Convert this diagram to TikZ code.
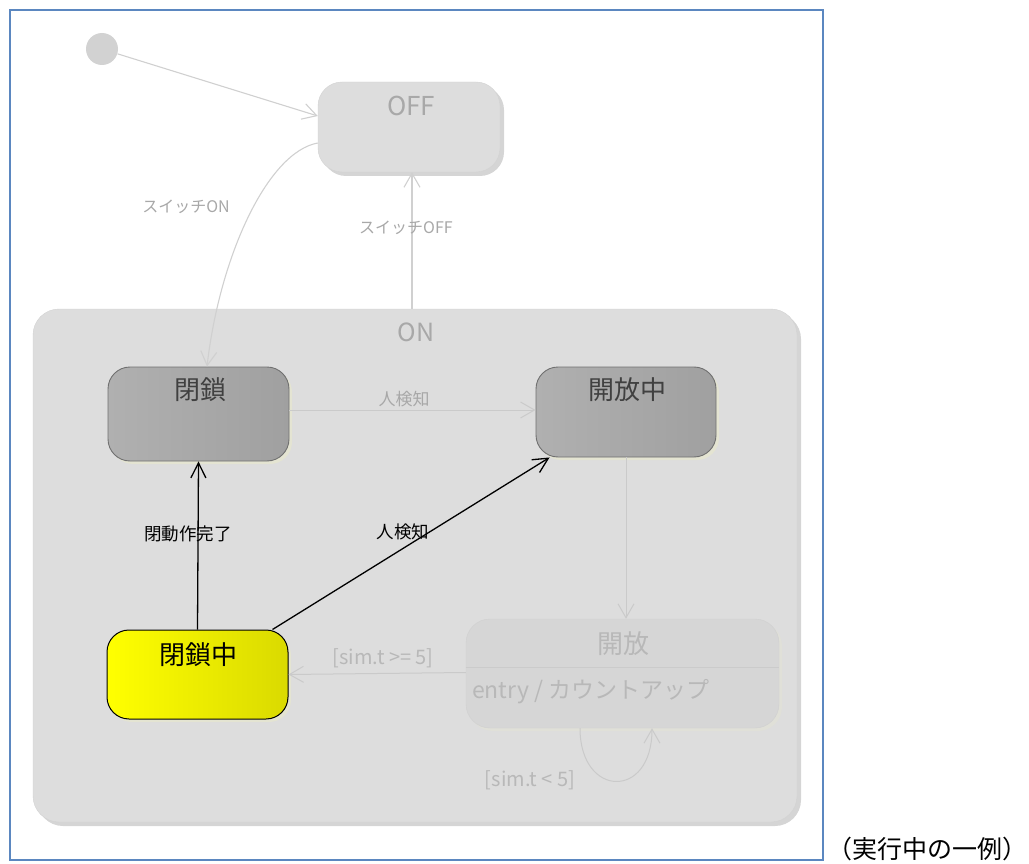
\documentclass[tikz,border=0pt]{standalone}
\usepackage{fontspec}
\setmainfont{Noto Sans CJK JP}
\usetikzlibrary{arrows.meta}
\definecolor{frameblue}{HTML}{5B87C0}
\definecolor{ongray}{HTML}{DDDDDD}
\definecolor{onborder}{HTML}{D2D2D2}
\definecolor{onshadow}{HTML}{D5D5D5}
\definecolor{ghosttext}{HTML}{A8A8A8}
\definecolor{faintline}{HTML}{D0D0D0}
\definecolor{darkfillL}{HTML}{B0B0B0}
\definecolor{darkfillR}{HTML}{A0A0A0}
\definecolor{darkborder}{HTML}{707070}
\definecolor{yshadow}{HTML}{E4E4D2}
\definecolor{statetext}{HTML}{404040}
\definecolor{yelL}{HTML}{FFFF00}
\definecolor{yelR}{HTML}{DADA00}
\definecolor{simtext}{HTML}{B8B8B8}
\tikzset{
  fs/.style={font=\fontsize{#1}{#1}\selectfont},
  ghoststate/.style={draw=onborder, fill=ongray, rounded corners=24pt, inner sep=0pt},
  darkstate/.style={draw=darkborder, line width=0.9pt, left color=darkfillL, right color=darkfillR, rounded corners=22pt, inner sep=0pt},
  activestate/.style={draw=black, line width=1pt, left color=yelL, right color=yelR, rounded corners=22pt, inner sep=0pt},
  garrow/.style={draw=faintline, line width=1.1pt, -{Straight Barb[length=14pt,width=16pt,line width=1.1pt]}},
  farrow/.style={draw=ongray!80!gray, line width=1pt, -{Straight Barb[length=14pt,width=16pt,line width=1pt]}},
  barrow/.style={draw=black, line width=1.3pt, -{Straight Barb[length=15pt,width=15pt,line width=1.3pt]}},
  glabel/.style={fs=16, text=ghosttext, inner sep=0pt},
  blabel/.style={fs=17.5, text=black, inner sep=0pt},
}
\begin{document}
\begin{tikzpicture}[x=1pt,y=-1pt]
\useasboundingbox (0,0) rectangle (1029,864);
% frame
\node[draw=frameblue, line width=1.3pt, minimum width=813pt, minimum height=850pt, inner sep=0pt] (frame) at (416.5,435) {};
\node[fs=25, text=black, inner sep=0pt] (caption) at (927,849) {（実行中の一例）};
% ON composite
\fill[onshadow] (37,313) [rounded corners=26pt] rectangle (801,826);
\node[ghoststate, rounded corners=26pt, minimum width=764pt, minimum height=513pt] (on) at (415,565.5) {};
\node[fs=25, text=ghosttext, inner sep=0pt] (onT) at (416,332) {ON};
% initial
\node[circle, fill=onborder, minimum size=32pt, inner sep=0pt] (init) at (102,49) {};
% OFF
\fill[onshadow] (322,86) [rounded corners=24pt] rectangle (504,176);
\node[ghoststate, minimum width=182pt, minimum height=90pt] (off) at (409,127) {};
\node[fs=26, text=ghosttext, inner sep=0pt] (offT) at (411,106) {OFF};
% 閉鎖
\fill[yshadow] (111,370) [rounded corners=22pt] rectangle (292,464);
\node[darkstate, minimum width=181pt, minimum height=94pt] (heisa) at (198.5,414) {};
\node[fs=26, text=statetext, inner sep=0pt] (heisaT) at (200,390) {閉鎖};
% 開放中
\fill[yshadow] (539,370) [rounded corners=22pt] rectangle (719,460);
\node[darkstate, minimum width=180pt, minimum height=90pt] (kaihouchu) at (626,412) {};
\node[fs=26, text=statetext, inner sep=0pt] (kaihouchuT) at (627,390) {開放中};
% 閉鎖中
\fill[yshadow] (110,633) [rounded corners=22pt] rectangle (291,722);
\node[activestate, minimum width=181pt, minimum height=89pt] (heisachu) at (197.5,674.5) {};
\node[fs=26, text=black, inner sep=0pt] (heisachuT) at (198,655) {閉鎖中};
% 開放
\fill[yshadow!40!ongray] (469,622) [rounded corners=24pt] rectangle (782,731);
\node[ghoststate, fill=ongray!97!black, draw=ongray!94!black, minimum width=313pt, minimum height=109pt] (kaihou) at (622.5,673.5) {};
\draw[ongray!92!black, line width=0.8pt] (kaihou.west |- 0,667) -- (kaihou.east |- 0,667);
\node[fs=26, text=simtext, inner sep=0pt] (kaihouT) at (623,644) {開放};
\node[fs=23, text=simtext, inner sep=0pt, anchor=west] (entryT) at (472,692) {entry / カウントアップ};
% transitions
\draw[garrow] (init) -- ([yshift=11pt]off.west);
\draw[garrow] ([yshift=-16pt]off.west) .. controls (268,152) and (220,255) .. ([xshift=8.5pt]heisa.north);
\node[glabel] (swon) at (186,207) {スイッチON};
\draw[garrow] ([xshift=-3pt]on.north) -- ([xshift=3pt]off.south);
\node[glabel] (swoff) at (406,228) {スイッチOFF};
\draw[farrow] ([yshift=4pt]heisa.east) -- ([yshift=2pt]kaihouchu.west);
\node[glabel, fs=17] (hito1) at (404,399) {人検知};
\draw[barrow] (heisachu.north) -- (heisa.south);
\node[blabel] (heidou) at (188,534) {閉動作完了};
\draw[barrow] ([xshift=-16pt]heisachu.north east) -- ([xshift=14pt]kaihouchu.south west);
\node[blabel] (hito2) at (403,532) {人検知};
\draw[farrow] (kaihouchu.south) -- (kaihouchu.south |- kaihou.north);
\draw[farrow] ([yshift=1pt]kaihou.west) -- (heisachu.east);
\node[fs=20, text=simtext, inner sep=0pt] (ge5) at (383,658) {[sim.t >= 5]};
\draw[farrow] ([xshift=-42.5pt]kaihou.south) .. controls (580,798) and (652,800) .. ([xshift=29.5pt]kaihou.south);
\node[fs=20, text=simtext, inner sep=0pt] (lt5) at (530,780) {[sim.t < 5]};
\end{tikzpicture}
\end{document}
